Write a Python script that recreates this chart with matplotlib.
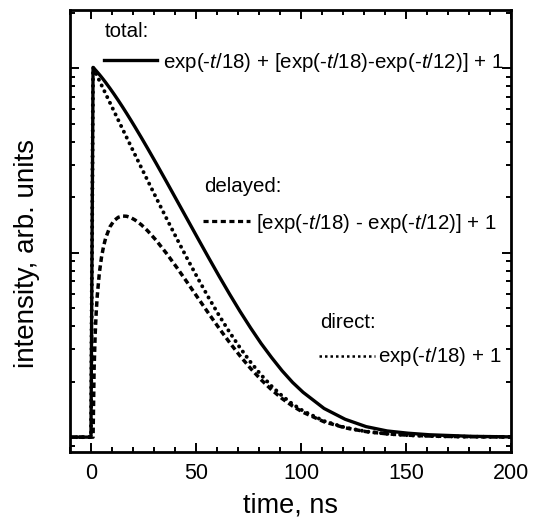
import matplotlib
matplotlib.use("Agg")
import matplotlib.pyplot as plt
from matplotlib.ticker import MultipleLocator, LogLocator, NullFormatter, FixedLocator

plt.rcParams['font.family'] = ['Liberation Sans', 'DejaVu Sans']
plt.rcParams['mathtext.fontset'] = 'custom'
plt.rcParams['mathtext.rm'] = 'Liberation Sans'
plt.rcParams['mathtext.it'] = 'Liberation Sans:italic'

# time axis (ns)
time_ns = [-10, 0, 1, 1.5, 2, 2.5, 3, 4, 5, 6, 7, 9, 11, 13, 15, 17, 19, 21, 24, 27,
           31, 36, 41, 46, 51, 56, 61, 66, 71, 76, 81, 86, 91, 96, 101, 111, 121,
           131, 141, 151, 161, 171, 181, 200]

total = [1, 1, 101, 99.60, 98.19, 96.76, 95.32, 92.42, 89.50, 86.57, 83.65, 77.89,
         72.29, 66.90, 61.75, 56.86, 52.26, 47.95, 42.02, 36.72, 30.57, 24.20, 19.10,
         15.07, 11.89, 9.40, 7.46, 5.96, 4.80, 3.91, 3.22, 2.70, 2.29, 1.98, 1.75,
         1.43, 1.25, 1.14, 1.08, 1.05, 1.03, 1.02, 1.01, 1.003]

delayed = [1, 1, 1, 2.341, 3.592, 4.754, 5.836, 7.768, 9.421, 10.82, 12.00, 13.78,
           14.92, 15.55, 15.80, 15.75, 15.48, 15.03, 14.16, 13.13, 11.68, 9.894, 8.269,
           6.857, 5.667, 4.688, 3.894, 3.258, 2.754, 2.357, 2.047, 1.806, 1.618, 1.474,
           1.363, 1.211, 1.123, 1.071, 1.041, 1.024, 1.014, 1.008, 1.005, 1.002]

direct = [1, 1, 101, 98.26, 95.60, 93.00, 90.48, 85.65, 81.07, 76.75, 72.65, 65.12,
          58.38, 52.34, 46.94, 42.11, 37.79, 33.92, 28.87, 24.59, 19.89, 15.31, 11.84,
          9.209, 7.218, 5.710, 4.567, 3.703, 3.047, 2.550, 2.174, 1.889, 1.674, 1.510,
          1.387, 1.222, 1.127, 1.073, 1.042, 1.024, 1.014, 1.008, 1.005, 1.002]

x_ticks = [0, 50, 100, 150, 200]
x_tick_labels = ['0', '50', '100', '150', '200']

labels = {
    'total': ('total:', r'exp(-$\it{t}$/18) + [exp(-$\it{t}$/18)-exp(-$\it{t}$/12)] + 1'),
    'delayed': ('delayed:', r'[exp(-$\it{t}$/18) - exp(-$\it{t}$/12)] + 1'),
    'direct': ('direct:', r'exp(-$\it{t}$/18) + 1'),
}

fig = plt.figure(figsize=(5.34, 5.22), dpi=100)
ax = fig.add_axes([0.131, 0.134, 0.826, 0.847])

dotted = (0, (0.05, 1.6))
dashed = (0, (1.6, 1.0))
ax.plot(time_ns, direct, color='black', lw=2.8, linestyle=dotted,
        dash_capstyle='round')
ax.plot(time_ns, delayed, color='black', lw=2.5, linestyle=dashed)
ax.plot(time_ns, total, color='black', lw=2.4, linestyle='-')

ax.set_yscale('log')
ax.set_xlim(-10, 200)
ax.set_ylim(0.83, 207)

ax.xaxis.set_major_locator(FixedLocator(x_ticks))
ax.set_xticklabels(x_tick_labels)
ax.xaxis.set_minor_locator(MultipleLocator(10))
ax.yaxis.set_major_locator(LogLocator(base=10))
ax.yaxis.set_minor_locator(LogLocator(base=10, subs=[2, 3, 4, 5, 6, 7, 8, 9]))
ax.yaxis.set_major_formatter(NullFormatter())
ax.yaxis.set_minor_formatter(NullFormatter())

ax.tick_params(which='both', direction='in', top=True, right=True, width=1.4,
               colors='black')
ax.tick_params(which='major', length=6.5, labelsize=15.5, pad=8)
ax.tick_params(which='minor', length=3.5)
for sp in ax.spines.values():
    sp.set_linewidth(2.0)

ax.set_xlabel('time, ns', fontsize=19.5, labelpad=6)
ax.set_ylabel('intensity, arb. units', fontsize=20)
ax.yaxis.set_label_coords(-0.068, 0.45)

fs = 14.8
T = ax.transAxes
# total
ax.text(0.079, 0.952, labels['total'][0], transform=T, fontsize=fs, va='center', ha='left')
ax.plot([0.077, 0.197], [0.887, 0.887], transform=T, color='black', lw=2.4, ls='-')
ax.text(0.212, 0.882, labels['total'][1], transform=T, fontsize=fs, va='center', ha='left')
# delayed
ax.text(0.304, 0.600, labels['delayed'][0], transform=T, fontsize=fs, va='center', ha='left')
ax.plot([0.302, 0.408], [0.523, 0.523], transform=T, color='black', lw=2.3,
        ls=(0, (1.6, 1.1)))
ax.text(0.422, 0.518, labels['delayed'][1], transform=T, fontsize=fs, va='center', ha='left')
# direct
ax.text(0.567, 0.294, labels['direct'][0], transform=T, fontsize=fs, va='center', ha='left')
ax.plot([0.565, 0.692], [0.217, 0.217], transform=T, color='black', lw=1.8,
        ls=(0, (1, 1.2)))
ax.text(0.698, 0.217, labels['direct'][1], transform=T, fontsize=fs, va='center', ha='left')

fig.savefig('out.png', dpi=100)
